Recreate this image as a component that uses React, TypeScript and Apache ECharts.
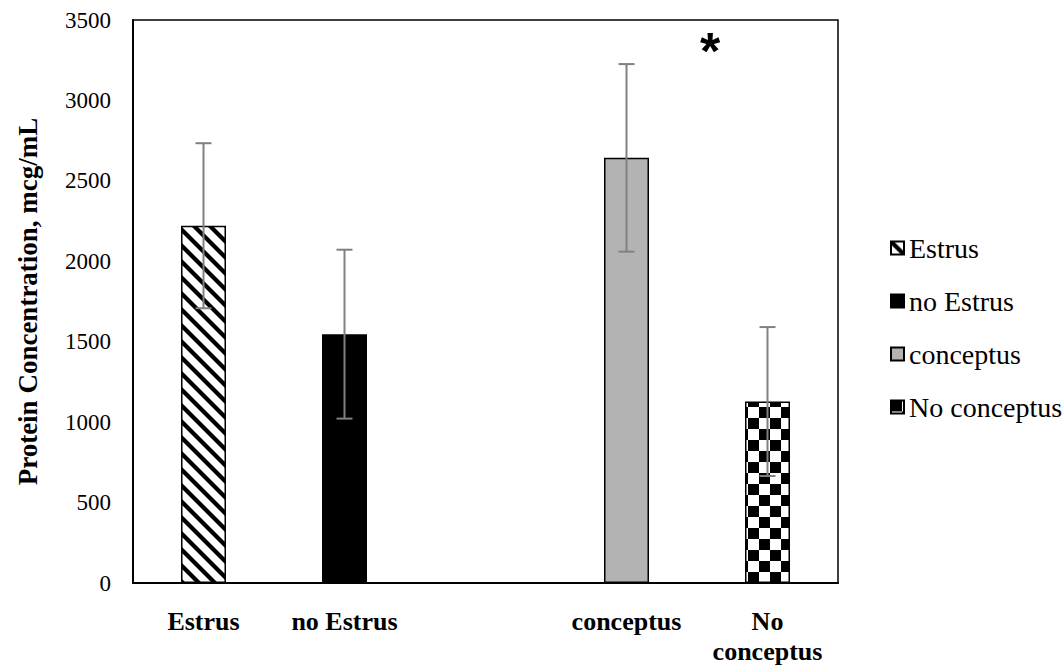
import React, { useEffect, useRef } from "react";
import * as echarts from "echarts";

// Category slots along the x axis (the blank slot separates the two comparisons)
const categories = ["Estrus", "no Estrus", "", "conceptus", "No conceptus"];
// Groups drawn as bars, with the slot each one sits in
const groupNames = ["Estrus", "no Estrus", "conceptus", "No conceptus"];
const groupSlots = [0, 1, 3, 4];
// Mean protein concentration (mcg/mL) and its error
const means = [2221, 1547, 2643, 1128];
const errors = [513, 525, 583, 463];
// Y axis range
const yMin = 0;
const yMax = 3500;
const yStep = 500;
const yTitle = "Protein Concentration, mcg/mL";
const significanceMark = "*";

const SERIF = "'Liberation Serif', 'Times New Roman', serif";

function stripeTile(): string {
  const c = document.createElement("canvas");
  c.width = 16;
  c.height = 16;
  const g = c.getContext("2d")!;
  g.fillStyle = "#fff";
  g.fillRect(0, 0, 16, 16);
  g.strokeStyle = "#000";
  g.lineWidth = 4.2;
  for (const o of [-16, 0, 16]) {
    g.beginPath();
    g.moveTo(o - 2, -2);
    g.lineTo(o + 18, 18);
    g.stroke();
  }
  return c.toDataURL();
}

function checkerTile(): string {
  const s = 11;
  const c = document.createElement("canvas");
  c.width = s * 2;
  c.height = s * 2;
  const g = c.getContext("2d")!;
  g.fillStyle = "#fff";
  g.fillRect(0, 0, s * 2, s * 2);
  g.fillStyle = "#000";
  g.fillRect(0, 0, s, s);
  g.fillRect(s, s, s, s);
  return c.toDataURL();
}

export default function App() {
  const ref = useRef<HTMLDivElement>(null);

  useEffect(() => {
    document.body.style.margin = "0";
    const chart = echarts.init(ref.current!, null, { renderer: "svg" });

    const fills: any[] = [
      { image: stripeTile(), repeat: "repeat", imageWidth: 16, imageHeight: 16 },
      "#000000",
      "#b3b3b3",
      { image: checkerTile(), repeat: "repeat", imageWidth: 22, imageHeight: 22 },
    ];

    const barSeries = groupNames.map((name, i) => ({
      name,
      type: "bar",
      barWidth: 45,
      barGap: "-100%",
      itemStyle: { color: fills[i], borderColor: "#000", borderWidth: 1.5 },
      data: categories.map((_, k) => (k === groupSlots[i] ? means[i] : "-")),
      z: 2,
    }));

    const errorData = groupSlots.map((slot, i) => [
      slot,
      means[i] - errors[i],
      means[i] + errors[i],
    ]);

    chart.setOption({
      animation: false,
      backgroundColor: "#fff",
      grid: {
        left: 133,
        right: 225,
        top: 20,
        bottom: 81,
        show: true,
        borderColor: "#000",
        borderWidth: 1.5,
      },
      legend: {
        orient: "vertical",
        left: 885,
        top: 228,
        itemWidth: 13,
        itemHeight: 13,
        itemGap: 23,
        icon: "rect",
        data: groupNames,
        textStyle: { fontFamily: SERIF, fontSize: 28, color: "#000", lineHeight: 30 },
      },
      xAxis: {
        type: "category",
        data: categories,
        axisTick: { show: false },
        axisLine: { lineStyle: { color: "#000", width: 2 } },
        axisLabel: {
          interval: 0,
          margin: 23,
          color: "#000",
          fontFamily: SERIF,
          fontWeight: "bold",
          fontSize: 26,
          lineHeight: 30,
          formatter: (v: string) => (v === "No conceptus" ? "No\nconceptus" : v),
        },
      },
      yAxis: {
        type: "value",
        min: yMin,
        max: yMax,
        interval: yStep,
        name: yTitle,
        nameLocation: "middle",
        nameGap: 92,
        nameRotate: 90,
        nameTextStyle: { fontFamily: SERIF, fontWeight: "bold", fontSize: 27, color: "#000" },
        axisLine: { show: true, lineStyle: { color: "#000", width: 2 } },
        axisTick: { show: false },
        splitLine: { show: false },
        axisLabel: {
          margin: 22,
          color: "#000",
          fontFamily: SERIF,
          fontSize: 23,
          formatter: (v: number) => String(v),
        },
      },
      series: [
        ...barSeries,
        {
          type: "custom",
          name: "error",
          data: errorData,
          encode: { x: 0, y: [1, 2] },
          z: 5,
          renderItem: (params: any, api: any) => {
            const x = api.value(0);
            const lo = api.coord([x, api.value(1)]);
            const hi = api.coord([x, api.value(2)]);
            const cap = 8;
            const style = { stroke: "#808080", lineWidth: 2 };
            return {
              type: "group",
              children: [
                { type: "line", shape: { x1: lo[0], y1: lo[1], x2: hi[0], y2: hi[1] }, style },
                { type: "line", shape: { x1: hi[0] - cap, y1: hi[1], x2: hi[0] + cap, y2: hi[1] }, style },
                { type: "line", shape: { x1: lo[0] - cap, y1: lo[1], x2: lo[0] + cap, y2: lo[1] }, style },
              ],
            };
          },
        },
      ],
      graphic: [
        {
          type: "text",
          x: 710,
          y: 25,
          style: {
            text: significanceMark,
            fontFamily: "'Liberation Sans', Arial, sans-serif",
            fontWeight: "bold",
            fontSize: 52,
            fill: "#000",
            align: "center",
            verticalAlign: "top",
          },
        },
      ],
    });

    return () => chart.dispose();
  }, []);

  return <div ref={ref} style={{ width: 1063, height: 666 }} />;
}
